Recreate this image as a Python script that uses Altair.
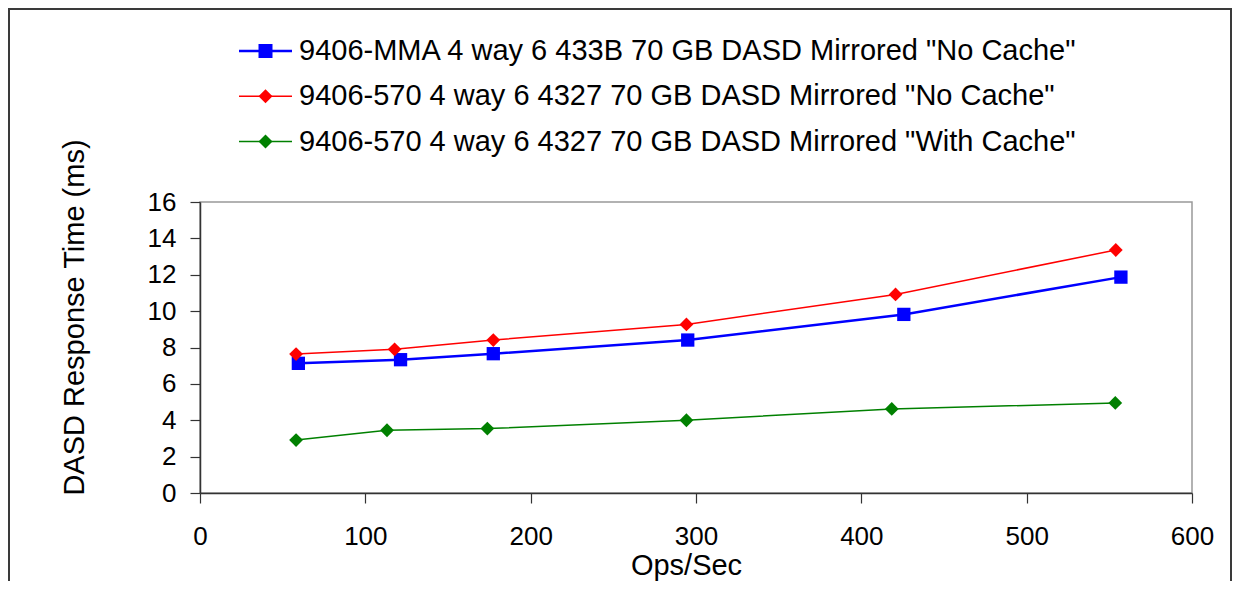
import altair as alt
import pandas as pd

# ---- data ----
series_names = [
    '9406-MMA 4 way 6 433B 70 GB DASD Mirrored "No Cache"',
    '9406-570 4 way 6 4327 70 GB DASD Mirrored "No Cache"',
    '9406-570 4 way 6 4327 70 GB DASD Mirrored "With Cache"',
]
series_colors = ["#0000FF", "#FF0000", "#008000"]

mma_ops = [59.5, 121.3, 177.4, 295.0, 425.7, 557.0]
mma_ms = [7.13, 7.33, 7.66, 8.41, 9.82, 11.87]

nocache_ops = [58.1, 117.7, 177.4, 294.2, 420.7, 553.9]
nocache_ms = [7.64, 7.90, 8.41, 9.27, 10.92, 13.36]

cache_ops = [58.1, 113.1, 173.8, 294.2, 418.4, 553.6]
cache_ms = [2.91, 3.45, 3.54, 4.00, 4.62, 4.95]

x_ticks = [0, 100, 200, 300, 400, 500, 600]
y_ticks = [0, 2, 4, 6, 8, 10, 12, 14, 16]

rows = []
for name, xs, ys in zip(series_names,
                        [mma_ops, nocache_ops, cache_ops],
                        [mma_ms, nocache_ms, cache_ms]):
    for a, b in zip(xs, ys):
        rows.append({"series": name, "ops": a, "ms": b})
df = pd.DataFrame(rows)
legend_df = pd.DataFrame({"series": series_names})

FONT = "Liberation Sans"

x_enc = alt.X("ops:Q", scale=alt.Scale(domain=[0, 600], nice=False),
              axis=alt.Axis(values=x_ticks, title="Ops/Sec", grid=False,
                            tickSize=10, labelPadding=20, labelFlush=False,
                            labelOverlap=False, titleX=486, titleY=81,
                            titleBaseline="alphabetic"))
y_enc = alt.Y("ms:Q", scale=alt.Scale(domain=[0, 16], nice=False),
              axis=alt.Axis(values=y_ticks, title="DASD Response Time (ms)",
                            grid=False, tickSize=10, labelPadding=14,
                            labelFlush=False, labelOverlap=False,
                            titleX=-117, titleY=115, titleAngle=-90,
                            titleBaseline="alphabetic", titleAlign="center"))
color_enc = alt.Color("series:N", scale=alt.Scale(domain=series_names, range=series_colors),
                      legend=None)

is_mma = alt.datum.series == series_names[0]
not_mma = alt.datum.series != series_names[0]

# ---- outer frame ----
frame = alt.Chart(pd.DataFrame({"k": [0]})).mark_rect(
    fillOpacity=0, stroke="#3a3a3a", strokeWidth=2
).encode(x=alt.value(-191), x2=alt.value(1031), y=alt.value(-193), y2=alt.value(395))

# ---- data layers ----
base = alt.Chart(df)
line_mma = base.transform_filter(is_mma).mark_line(strokeWidth=2.5).encode(
    x=x_enc, y=y_enc, color=color_enc)
line_other = base.transform_filter(not_mma).mark_line(strokeWidth=1.5).encode(
    x=x_enc, y=y_enc, color=color_enc)
pts_sq = base.transform_filter(is_mma).mark_point(
    filled=True, shape="square", size=177, opacity=1).encode(x=x_enc, y=y_enc, color=color_enc)
pts_dm = base.transform_filter(not_mma).mark_point(
    filled=True, shape="diamond", size=190, opacity=1).encode(x=x_enc, y=y_enc, color=color_enc)
main = alt.layer(line_mma, line_other, pts_sq, pts_dm)

# ---- legend built from the series list ----
leg_y = alt.Y("series:N", scale=alt.Scale(type="point", domain=series_names,
                                          range=[-151, -60.5], padding=0), axis=None)
leg_base = alt.Chart(legend_df)
leg_rule_mma = leg_base.transform_filter(is_mma).mark_rule(strokeWidth=2.5).encode(
    x=alt.value(39), x2=alt.value(92), y=leg_y, color=color_enc)
leg_rule_oth = leg_base.transform_filter(not_mma).mark_rule(strokeWidth=1.5).encode(
    x=alt.value(39), x2=alt.value(92), y=leg_y, color=color_enc)
leg_sq = leg_base.transform_filter(is_mma).mark_point(
    filled=True, shape="square", size=196, opacity=1).encode(
    x=alt.value(65.5), y=leg_y, color=color_enc)
leg_dm = leg_base.transform_filter(not_mma).mark_point(
    filled=True, shape="diamond", size=196, opacity=1).encode(
    x=alt.value(65.5), y=leg_y, color=color_enc)
leg_text = leg_base.mark_text(align="left", baseline="middle", font=FONT, fontSize=29,
                              color="#000000").encode(
    x=alt.value(99), y=leg_y, text="series:N")
legend = alt.layer(leg_rule_mma, leg_rule_oth, leg_sq, leg_dm, leg_text)

chart = alt.layer(frame, main, legend).resolve_scale(y="independent").properties(
    width=992, height=291,
    autosize=alt.AutoSizeParams(type="none"),
    padding={"left": 192, "top": 194, "right": 40, "bottom": 88},
).configure_view(
    stroke="#999999", strokeWidth=1.5
).configure_axis(
    labelFont=FONT, titleFont=FONT, labelFontSize=26, titleFontSize=29,
    titleFontWeight="normal", labelColor="#000000", titleColor="#000000",
    domainColor="#333333", domainWidth=1.5, tickColor="#333333", tickWidth=1.2,
)

chart.save("out.html", embed_options={"renderer": "svg", "actions": False})
